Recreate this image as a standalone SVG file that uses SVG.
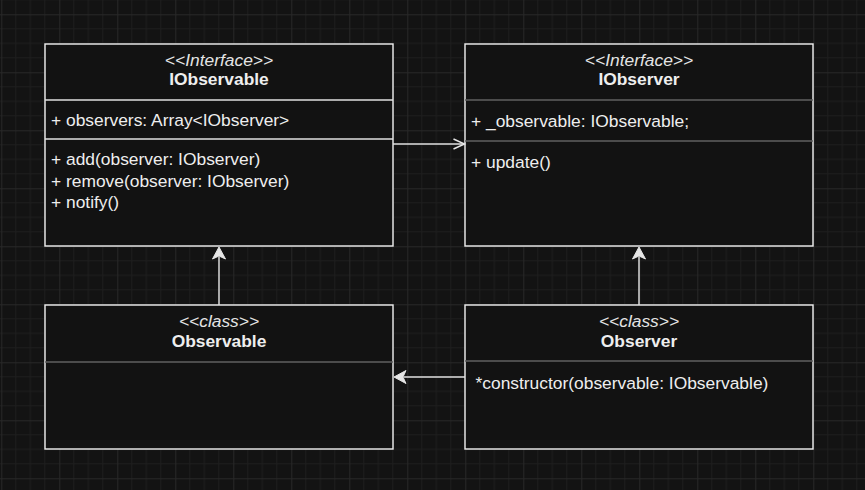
<svg xmlns="http://www.w3.org/2000/svg" width="865" height="490" viewBox="0 0 865 490">
  <defs>
    <pattern id="grid" patternUnits="userSpaceOnUse" x="1.3" y="14.3" width="58" height="58">
      <rect width="58" height="58" fill="#131313"/>
      <path d="M14.5,0V58M29,0V58M43.5,0V58M0,14.5H58M0,29H58M0,43.5H58" stroke="#1e1e1e" stroke-width="1" fill="none"/>
      <path d="M0.5,0V58M0,0.5H58" stroke="#282828" stroke-width="1" fill="none"/>
    </pattern>
    <marker id="block" viewBox="-3 -8 14 16" refX="0" refY="0" markerWidth="14" markerHeight="16" markerUnits="userSpaceOnUse" orient="auto">
      <path d="M10,0 L-2,-6.5 L1,0 L-2,6.5 Z" fill="#e6e6e6" stroke="#e6e6e6" stroke-width="1" stroke-linejoin="miter"/>
    </marker>
    <marker id="open" viewBox="-13 -7 15 14" refX="0" refY="0" markerWidth="15" markerHeight="14" markerUnits="userSpaceOnUse" orient="auto">
      <path d="M-11,-5 L0,0 L-11,5" fill="none" stroke="#e6e6e6" stroke-width="1.45"/>
    </marker>
  </defs>
  <style>
    .box { fill: #121212; stroke: #ececec; stroke-width: 1.45; }
    .sep { stroke: #e0e0e0; stroke-width: 1.45; }
    .sepd { stroke: #606060; stroke-width: 1.45; }
    text { font-family: "Liberation Sans", Arial, sans-serif; font-size: 17.4px; fill: #eeeeee; }
    .st { font-style: italic; text-anchor: middle; fill: #e4e4e4; }
    .ttl { font-weight: bold; text-anchor: middle; }
    .edge { fill: none; stroke: #e0e0e0; stroke-width: 1.45; }
  </style>
  <rect width="865" height="490" fill="url(#grid)"/>

  <g id="IObservable">
    <rect class="box" x="45" y="44" width="348" height="202"/>
    <line class="sep" x1="45" y1="100" x2="393" y2="100"/>
    <line class="sep" x1="45" y1="139" x2="393" y2="139"/>
    <text class="st" x="219" y="65.5">&lt;&lt;Interface&gt;&gt;</text>
    <text class="ttl" x="219" y="85">IObservable</text>
    <text x="51" y="126">+ observers: Array&lt;IObserver&gt;</text>
    <text x="51" y="165">+ add(observer: IObserver)</text>
    <text x="51" y="187">+ remove(observer: IObserver)</text>
    <text x="51" y="208">+ notify()</text>
  </g>

  <g id="IObserver">
    <rect class="box" x="465" y="44" width="348" height="202"/>
    <line class="sepd" x1="465" y1="100" x2="813" y2="100"/>
    <line class="sepd" x1="465" y1="141" x2="813" y2="141"/>
    <text class="st" x="639" y="65.5">&lt;&lt;Interface&gt;&gt;</text>
    <text class="ttl" x="639" y="85">IObserver</text>
    <text x="471" y="126.5">+ _observable: IObservable;</text>
    <text x="471" y="167.5">+ update()</text>
  </g>

  <g id="Observable">
    <rect class="box" x="45" y="305" width="348" height="144"/>
    <line class="sepd" x1="45" y1="362" x2="393" y2="362"/>
    <text class="st" x="219" y="327">&lt;&lt;class&gt;&gt;</text>
    <text class="ttl" x="219" y="346.5">Observable</text>
  </g>

  <g id="Observer">
    <rect class="box" x="465" y="305" width="348" height="144"/>
    <line class="sepd" x1="465" y1="361" x2="813" y2="361"/>
    <text class="st" x="639" y="327">&lt;&lt;class&gt;&gt;</text>
    <text class="ttl" x="639" y="346.5">Observer</text>
    <text x="475.5" y="388.5">*constructor(observable: IObservable)</text>
  </g>

  <g id="connectors">
    <path class="edge" d="M393,144 H464.5" marker-end="url(#open)"/>
    <path class="edge" d="M219,305 V257" marker-end="url(#block)"/>
    <path class="edge" d="M639,305 V257" marker-end="url(#block)"/>
    <path class="edge" d="M465,377 H404" marker-end="url(#block)"/>
  </g>
</svg>
